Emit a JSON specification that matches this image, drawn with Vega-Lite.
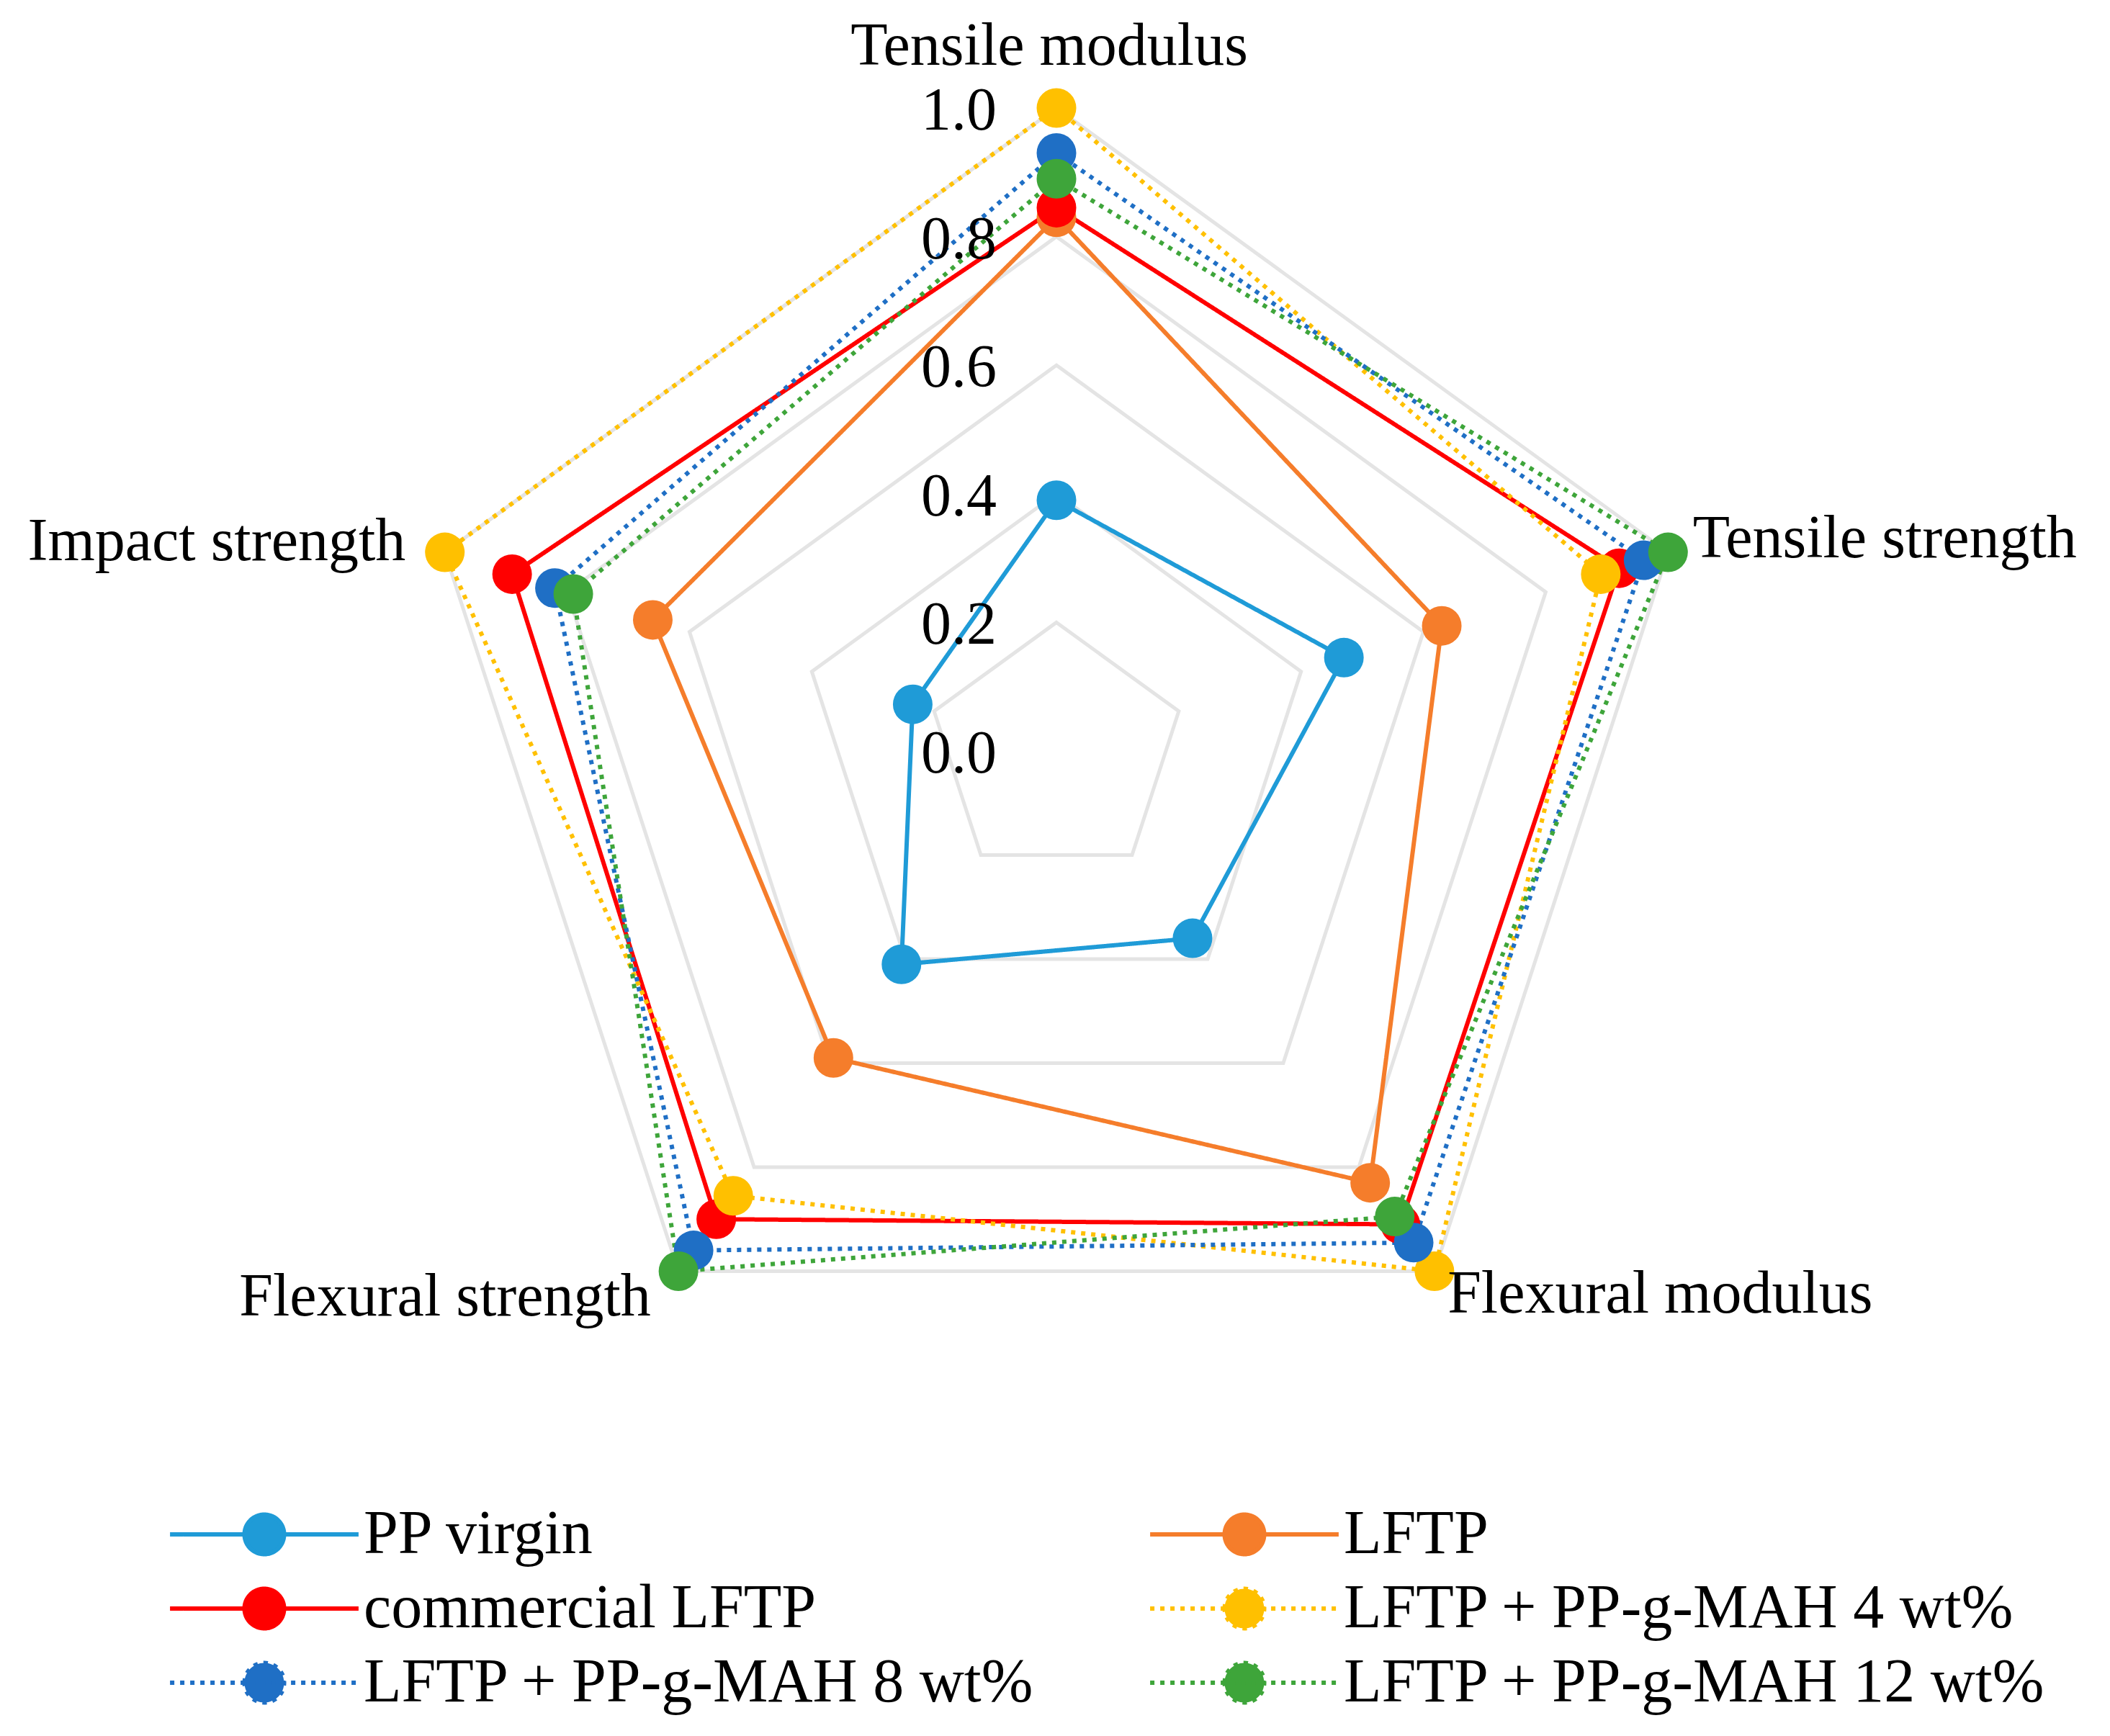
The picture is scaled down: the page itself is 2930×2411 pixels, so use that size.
{
  "$schema": "https://vega.github.io/schema/vega-lite/v6.json",
  "width": 2930,
  "height": 2411,
  "padding": 0,
  "autosize": {"type": "none"},
  "background": "white",
  "config": {
    "view": {"stroke": null},
    "font": "Liberation Serif",
    "legend": {
      "orient": "none",
      "legendX": 324,
      "legendY": 2088,
      "columns": 2,
      "columnPadding": 147,
      "rowPadding": 17,
      "symbolType": "M-4.76,0L4.76,0M-1,0A1,1,0,1,1,1,0A1,1,0,1,1,-1,0Z",
      "symbolSize": 3025,
      "symbolStrokeWidth": 6,
      "labelFont": "Liberation Serif",
      "labelFontSize": 86,
      "labelColor": "black",
      "labelOffset": 95,
      "labelLimit": 0
    }
  },
  "datasets": {
    "vals": [
      {"series": "PP virgin", "axis": "Tensile modulus", "i": 0, "value": 0.39},
      {"series": "PP virgin", "axis": "Tensile strength", "i": 1, "value": 0.47},
      {"series": "PP virgin", "axis": "Flexural modulus", "i": 2, "value": 0.36},
      {"series": "PP virgin", "axis": "Flexural strength", "i": 3, "value": 0.41},
      {"series": "PP virgin", "axis": "Impact strength", "i": 4, "value": 0.235},
      {"series": "LFTP", "axis": "Tensile modulus", "i": 0, "value": 0.83},
      {"series": "LFTP", "axis": "Tensile strength", "i": 1, "value": 0.63},
      {"series": "LFTP", "axis": "Flexural modulus", "i": 2, "value": 0.83},
      {"series": "LFTP", "axis": "Flexural strength", "i": 3, "value": 0.59},
      {"series": "LFTP", "axis": "Impact strength", "i": 4, "value": 0.66},
      {"series": "commercial LFTP", "axis": "Tensile modulus", "i": 0, "value": 0.845},
      {"series": "commercial LFTP", "axis": "Tensile strength", "i": 1, "value": 0.92},
      {"series": "commercial LFTP", "axis": "Flexural modulus", "i": 2, "value": 0.91},
      {"series": "commercial LFTP", "axis": "Flexural strength", "i": 3, "value": 0.9},
      {"series": "commercial LFTP", "axis": "Impact strength", "i": 4, "value": 0.89},
      {"series": "LFTP + PP-g-MAH 4 wt%", "axis": "Tensile modulus", "i": 0, "value": 1.0},
      {"series": "LFTP + PP-g-MAH 4 wt%", "axis": "Tensile strength", "i": 1, "value": 0.89},
      {"series": "LFTP + PP-g-MAH 4 wt%", "axis": "Flexural modulus", "i": 2, "value": 1.0},
      {"series": "LFTP + PP-g-MAH 4 wt%", "axis": "Flexural strength", "i": 3, "value": 0.855},
      {"series": "LFTP + PP-g-MAH 4 wt%", "axis": "Impact strength", "i": 4, "value": 1.0},
      {"series": "LFTP + PP-g-MAH 8 wt%", "axis": "Tensile modulus", "i": 0, "value": 0.93},
      {"series": "LFTP + PP-g-MAH 8 wt%", "axis": "Tensile strength", "i": 1, "value": 0.96},
      {"series": "LFTP + PP-g-MAH 8 wt%", "axis": "Flexural modulus", "i": 2, "value": 0.945},
      {"series": "LFTP + PP-g-MAH 8 wt%", "axis": "Flexural strength", "i": 3, "value": 0.96},
      {"series": "LFTP + PP-g-MAH 8 wt%", "axis": "Impact strength", "i": 4, "value": 0.82},
      {"series": "LFTP + PP-g-MAH 12 wt%", "axis": "Tensile modulus", "i": 0, "value": 0.89},
      {"series": "LFTP + PP-g-MAH 12 wt%", "axis": "Tensile strength", "i": 1, "value": 1.0},
      {"series": "LFTP + PP-g-MAH 12 wt%", "axis": "Flexural modulus", "i": 2, "value": 0.895},
      {"series": "LFTP + PP-g-MAH 12 wt%", "axis": "Flexural strength", "i": 3, "value": 1.0},
      {"series": "LFTP + PP-g-MAH 12 wt%", "axis": "Impact strength", "i": 4, "value": 0.79}
    ],
    "grid": [
      {"level": 0.2, "i": 0}, {"level": 0.2, "i": 1}, {"level": 0.2, "i": 2}, {"level": 0.2, "i": 3}, {"level": 0.2, "i": 4},
      {"level": 0.4, "i": 0}, {"level": 0.4, "i": 1}, {"level": 0.4, "i": 2}, {"level": 0.4, "i": 3}, {"level": 0.4, "i": 4},
      {"level": 0.6, "i": 0}, {"level": 0.6, "i": 1}, {"level": 0.6, "i": 2}, {"level": 0.6, "i": 3}, {"level": 0.6, "i": 4},
      {"level": 0.8, "i": 0}, {"level": 0.8, "i": 1}, {"level": 0.8, "i": 2}, {"level": 0.8, "i": 3}, {"level": 0.8, "i": 4},
      {"level": 1.0, "i": 0}, {"level": 1.0, "i": 1}, {"level": 1.0, "i": 2}, {"level": 1.0, "i": 3}, {"level": 1.0, "i": 4}
    ],
    "ticks": [
      {"level": 0.0, "label": "0.0"},
      {"level": 0.2, "label": "0.2"},
      {"level": 0.4, "label": "0.4"},
      {"level": 0.6, "label": "0.6"},
      {"level": 0.8, "label": "0.8"},
      {"level": 1.0, "label": "1.0"}
    ],
    "axes": [
      {"axis": "Tensile modulus", "i": 0},
      {"axis": "Tensile strength", "i": 1},
      {"axis": "Flexural modulus", "i": 2},
      {"axis": "Flexural strength", "i": 3},
      {"axis": "Impact strength", "i": 4}
    ]
  },
  "layer": [
    {
      "data": {"name": "grid"},
      "transform": [
        {"calculate": "datum.level * sin(datum.i * 2 * PI / 5)", "as": "x"},
        {"calculate": "datum.level * cos(datum.i * 2 * PI / 5)", "as": "y"}
      ],
      "mark": {"type": "line", "interpolate": "linear-closed", "stroke": "#e4e4e4", "strokeWidth": 5},
      "encoding": {
        "x": {"field": "x", "type": "quantitative", "axis": null, "scale": {"domain": [-1.6428, 1.6383], "nice": false, "zero": false}},
        "y": {"field": "y", "type": "quantitative", "axis": null, "scale": {"domain": [-1.5319, 1.168], "nice": false, "zero": false}},
        "detail": {"field": "level", "type": "nominal"},
        "order": {"field": "i", "type": "quantitative"}
      }
    },
    {
      "data": {"name": "vals"},
      "transform": [
        {"calculate": "datum.value * sin(datum.i * 2 * PI / 5)", "as": "x"},
        {"calculate": "datum.value * cos(datum.i * 2 * PI / 5)", "as": "y"}
      ],
      "mark": {"type": "line", "interpolate": "linear-closed", "strokeWidth": 6},
      "encoding": {
        "x": {"field": "x", "type": "quantitative"},
        "y": {"field": "y", "type": "quantitative"},
        "order": {"field": "i", "type": "quantitative"},
        "color": {
          "field": "series", "type": "nominal", "title": null,
          "scale": {
            "domain": ["PP virgin", "commercial LFTP", "LFTP + PP-g-MAH 8 wt%", "LFTP", "LFTP + PP-g-MAH 4 wt%", "LFTP + PP-g-MAH 12 wt%"],
            "range": ["#1f9bd7", "#ff0000", "#1f6fc5", "#f57d2b", "#ffc000", "#3ea53a"]
          },
          "legend": {
            "encode": {"symbols": {"update": {"fill": {"scale": "color", "field": "value"}, "fillOpacity": {"value": 1}}}}
          }
        },
        "strokeDash": {
          "field": "series", "type": "nominal", "title": null,
          "scale": {
            "domain": ["PP virgin", "commercial LFTP", "LFTP + PP-g-MAH 8 wt%", "LFTP", "LFTP + PP-g-MAH 4 wt%", "LFTP + PP-g-MAH 12 wt%"],
            "range": [[1, 0], [1, 0], [6, 8], [1, 0], [6, 8], [6, 8]]
          }
        }
      }
    },
    {
      "data": {"name": "vals"},
      "transform": [
        {"calculate": "datum.value * sin(datum.i * 2 * PI / 5)", "as": "x"},
        {"calculate": "datum.value * cos(datum.i * 2 * PI / 5)", "as": "y"}
      ],
      "mark": {"type": "point", "shape": "circle", "filled": true, "opacity": 1, "size": 3025},
      "encoding": {
        "x": {"field": "x", "type": "quantitative"},
        "y": {"field": "y", "type": "quantitative"},
        "color": {"field": "series", "type": "nominal", "legend": null}
      }
    },
    {
      "data": {"name": "ticks"},
      "transform": [
        {"calculate": "0", "as": "x"}
      ],
      "mark": {"type": "text", "align": "right", "baseline": "middle", "dx": -83, "dy": 5, "fontSize": 84, "font": "Liberation Serif", "color": "black"},
      "encoding": {
        "x": {"field": "x", "type": "quantitative"},
        "y": {"field": "level", "type": "quantitative"},
        "text": {"field": "label", "type": "nominal"}
      }
    },
    {
      "data": {"name": "axes"},
      "transform": [
        {"filter": "datum.i == 0"},
        {"calculate": "1.095 * sin(datum.i * 2 * PI / 5)", "as": "x"},
        {"calculate": "1.095 * cos(datum.i * 2 * PI / 5)", "as": "y"}
      ],
      "mark": {"type": "text", "align": "center", "baseline": "middle", "dx": -10, "fontSize": 84, "font": "Liberation Serif", "color": "black"},
      "encoding": {
        "x": {"field": "x", "type": "quantitative"},
        "y": {"field": "y", "type": "quantitative"},
        "text": {"field": "axis", "type": "nominal"}
      }
    },
    {
      "data": {"name": "axes"},
      "transform": [
        {"filter": "datum.i == 1 || datum.i == 2"},
        {"calculate": "1.05 * sin(datum.i * 2 * PI / 5)", "as": "x"},
        {"calculate": "1.05 * cos(datum.i * 2 * PI / 5)", "as": "y"}
      ],
      "mark": {"type": "text", "align": "left", "baseline": "middle", "dx": -8, "dy": -4, "fontSize": 84, "font": "Liberation Serif", "color": "black"},
      "encoding": {
        "x": {"field": "x", "type": "quantitative"},
        "y": {"field": "y", "type": "quantitative"},
        "text": {"field": "axis", "type": "nominal"}
      }
    },
    {
      "data": {"name": "axes"},
      "transform": [
        {"filter": "datum.i == 3 || datum.i == 4"},
        {"calculate": "1.05 * sin(datum.i * 2 * PI / 5)", "as": "x"},
        {"calculate": "1.05 * cos(datum.i * 2 * PI / 5)", "as": "y"}
      ],
      "mark": {"type": "text", "align": "right", "baseline": "middle", "dx": -12, "fontSize": 84, "font": "Liberation Serif", "color": "black"},
      "encoding": {
        "x": {"field": "x", "type": "quantitative"},
        "y": {"field": "y", "type": "quantitative"},
        "text": {"field": "axis", "type": "nominal"}
      }
    }
  ]
}
